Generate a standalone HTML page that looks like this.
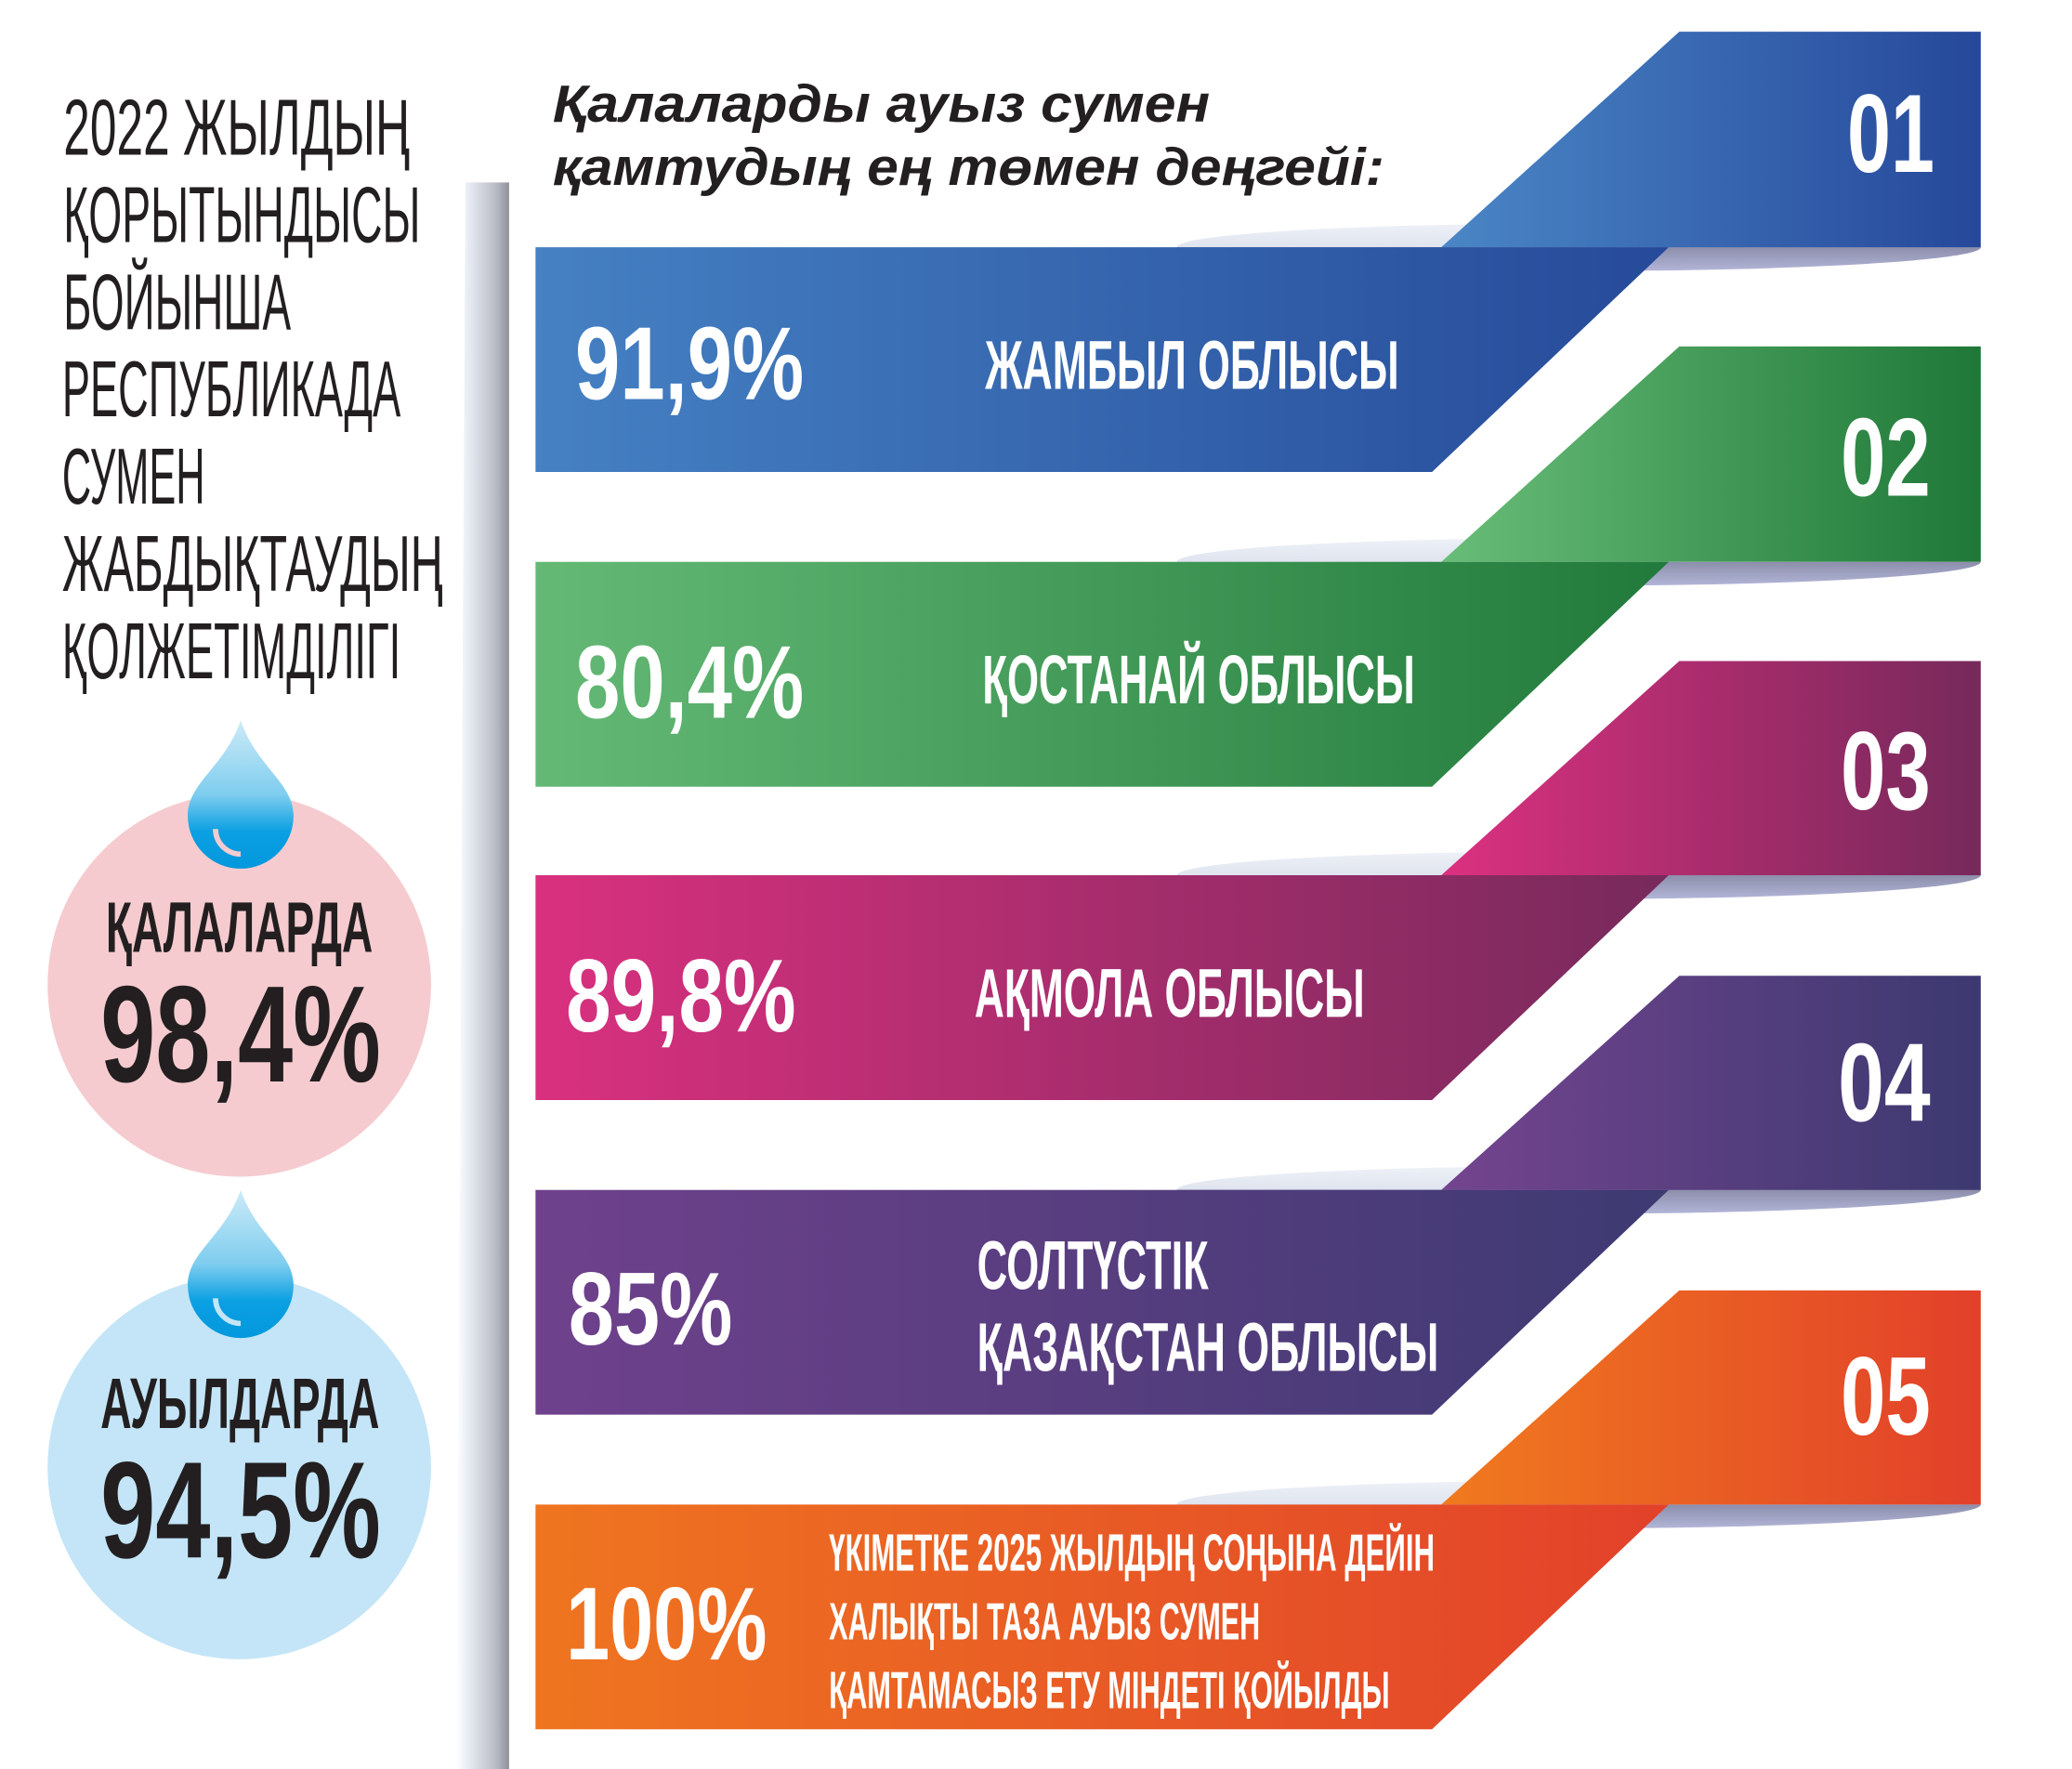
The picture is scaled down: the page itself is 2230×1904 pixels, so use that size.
<!DOCTYPE html>
<html><head><meta charset="utf-8"><style>
html,body{margin:0;padding:0;background:#fff;}
svg{display:block;}
text{font-family:"Liberation Sans Narrow","Liberation Sans","Noto Sans CJK SC",sans-serif;}
</style></head><body>
<svg width="2230" height="1904" viewBox="0 0 1567 1338" preserveAspectRatio="none" xmlns="http://www.w3.org/2000/svg">
<defs>
<linearGradient id="bar" x1="0" x2="1"><stop offset="0" stop-color="#ffffff"/><stop offset="0.25" stop-color="#e6eaf2"/><stop offset="0.75" stop-color="#b9bcc6"/><stop offset="1" stop-color="#8e9099"/></linearGradient>
<linearGradient id="ell" x1="0" y1="0" x2="0" y2="1"><stop offset="0" stop-color="#eef1f7"/><stop offset="0.5" stop-color="#dfe4ef"/><stop offset="0.5" stop-color="#8c8eab"/><stop offset="1" stop-color="#b3b5d8"/></linearGradient>
<linearGradient id="g1" x1="0" x2="1"><stop offset="0" stop-color="#4581c3"/><stop offset="1" stop-color="#264a99"/></linearGradient>
<linearGradient id="g2" x1="0" x2="1"><stop offset="0" stop-color="#64b975"/><stop offset="1" stop-color="#217a3b"/></linearGradient>
<linearGradient id="g3" x1="0" x2="1"><stop offset="0" stop-color="#d9307f"/><stop offset="1" stop-color="#772a5c"/></linearGradient>
<linearGradient id="g4" x1="0" x2="1"><stop offset="0" stop-color="#6f418c"/><stop offset="1" stop-color="#3e3a72"/></linearGradient>
<linearGradient id="g5" x1="0" x2="1"><stop offset="0" stop-color="#ef7520"/><stop offset="1" stop-color="#e2412a"/></linearGradient>
<linearGradient id="p1" x1="0" x2="1"><stop offset="0" stop-color="#4a86c6"/><stop offset="1" stop-color="#26489a"/></linearGradient>
<linearGradient id="p2" x1="0" x2="1"><stop offset="0" stop-color="#68bd78"/><stop offset="1" stop-color="#1f7838"/></linearGradient>
<linearGradient id="p3" x1="0" x2="1"><stop offset="0" stop-color="#dc3080"/><stop offset="1" stop-color="#76295b"/></linearGradient>
<linearGradient id="p4" x1="0" x2="1"><stop offset="0" stop-color="#74448f"/><stop offset="1" stop-color="#3c3970"/></linearGradient>
<linearGradient id="p5" x1="0" x2="1"><stop offset="0" stop-color="#f07a1e"/><stop offset="1" stop-color="#e2402a"/></linearGradient>
<linearGradient id="drop" x1="0" y1="0" x2="0" y2="1"><stop offset="0" stop-color="#cdebf8"/><stop offset="0.5" stop-color="#7fcdef"/><stop offset="0.75" stop-color="#0aa0e2"/><stop offset="1" stop-color="#0398dd"/></linearGradient>
</defs>

<!-- vertical bar -->
<polygon points="352,138 385,138 385,1338 345,1338" fill="url(#bar)"/>

<!-- left text -->
<g fill="#231f20" font-size="60">
<text x="48" y="117" textLength="262" lengthAdjust="spacingAndGlyphs">2022 ЖЫЛДЫҢ</text>
<text x="48" y="183" textLength="270" lengthAdjust="spacingAndGlyphs">ҚОРЫТЫНДЫСЫ</text>
<text x="48" y="249" textLength="172" lengthAdjust="spacingAndGlyphs">БОЙЫНША</text>
<text x="47" y="315" textLength="256" lengthAdjust="spacingAndGlyphs">РЕСПУБЛИКАДА</text>
<text x="47" y="381" textLength="108" lengthAdjust="spacingAndGlyphs">СУМЕН</text>
<text x="47" y="447" textLength="288" lengthAdjust="spacingAndGlyphs">ЖАБДЫҚТАУДЫҢ</text>
<text x="47" y="513" textLength="256" lengthAdjust="spacingAndGlyphs">ҚОЛЖЕТІМДІЛІГІ</text>
</g>

<!-- circles -->
<circle cx="181" cy="745" r="145" fill="#f5cbcf"/>
<circle cx="181" cy="1110" r="145" fill="#c3e5f7"/>
<g id="d1">
<path d="M182,545 C194,580 222,592 222,617 A40,40 0 1 1 142,617 C142,592 170,580 182,545 Z" fill="url(#drop)"/>
<path d="M163,627 A19,19 0 0 0 182,646" fill="none" stroke="#f5cbcf" stroke-width="4"/>
</g>
<path d="M182,900 C194,935 222,947 222,972 A40,40 0 1 1 142,972 C142,947 170,935 182,900 Z" fill="url(#drop)"/>
<path d="M163,982 A19,19 0 0 0 182,1001" fill="none" stroke="#c3e5f7" stroke-width="4"/>
<g fill="#231f20" font-weight="bold">
<text x="80" y="720" font-size="54" textLength="202" lengthAdjust="spacingAndGlyphs">ҚАЛАЛАРДА</text>
<text x="76" y="818" font-size="104" textLength="212" lengthAdjust="spacingAndGlyphs">98,4%</text>
<text x="76" y="1080" font-size="54" textLength="211" lengthAdjust="spacingAndGlyphs">АУЫЛДАРДА</text>
<text x="76" y="1178" font-size="104" textLength="212" lengthAdjust="spacingAndGlyphs">94,5%</text>
</g>

<!-- title -->
<g fill="#231f20" font-weight="bold" font-style="italic" font-size="40">
<text x="418" y="92" textLength="497" lengthAdjust="spacingAndGlyphs" style="font-family:'Liberation Sans',sans-serif">Қалаларды ауыз сумен</text>
<text x="418" y="140" textLength="629" lengthAdjust="spacingAndGlyphs" style="font-family:'Liberation Sans',sans-serif">қамтудың ең төмен деңгейі:</text>
</g>

<!-- bands -->
<g>
<ellipse cx="1194" cy="187" rx="304" ry="18" fill="url(#ell)"/>
<polygon points="1270,24 1498,24 1498,187 1090,187" fill="url(#p1)"/>
<polygon points="405,187 1262,187 1083,357 405,357" fill="url(#g1)"/>

<ellipse cx="1194" cy="425" rx="304" ry="18" fill="url(#ell)"/>
<polygon points="1270,262 1498,262 1498,425 1090,425" fill="url(#p2)"/>
<polygon points="405,425 1262,425 1083,595 405,595" fill="url(#g2)"/>

<ellipse cx="1194" cy="662" rx="304" ry="18" fill="url(#ell)"/>
<polygon points="1270,500 1498,500 1498,662 1090,662" fill="url(#p3)"/>
<polygon points="405,662 1262,662 1083,832 405,832" fill="url(#g3)"/>

<ellipse cx="1194" cy="900" rx="304" ry="18" fill="url(#ell)"/>
<polygon points="1270,738 1498,738 1498,900 1090,900" fill="url(#p4)"/>
<polygon points="405,900 1262,900 1083,1070 405,1070" fill="url(#g4)"/>

<ellipse cx="1194" cy="1138" rx="304" ry="18" fill="url(#ell)"/>
<polygon points="1270,976 1498,976 1498,1138 1090,1138" fill="url(#p5)"/>
<polygon points="405,1138 1262,1138 1083,1308 405,1308" fill="url(#g5)"/>
</g>

<!-- band text -->
<g fill="#ffffff" font-weight="bold">
<text x="1397" y="130" font-size="84" textLength="66" lengthAdjust="spacingAndGlyphs">01</text>
<text x="1392" y="375" font-size="84" textLength="68" lengthAdjust="spacingAndGlyphs">02</text>
<text x="1392" y="612" font-size="84" textLength="68" lengthAdjust="spacingAndGlyphs">03</text>
<text x="1390" y="848" font-size="84" textLength="70" lengthAdjust="spacingAndGlyphs">04</text>
<text x="1392" y="1085" font-size="84" textLength="68" lengthAdjust="spacingAndGlyphs">05</text>

<text x="435" y="302" font-size="78" textLength="173" lengthAdjust="spacingAndGlyphs">91,9%</text>
<text x="745" y="294" font-size="52" textLength="313" lengthAdjust="spacingAndGlyphs">ЖАМБЫЛ ОБЛЫСЫ</text>

<text x="435" y="543" font-size="78" textLength="173" lengthAdjust="spacingAndGlyphs">80,4%</text>
<text x="743" y="532" font-size="52" textLength="327" lengthAdjust="spacingAndGlyphs">ҚОСТАНАЙ ОБЛЫСЫ</text>

<text x="428" y="780" font-size="78" textLength="174" lengthAdjust="spacingAndGlyphs">89,8%</text>
<text x="737" y="769" font-size="52" textLength="295" lengthAdjust="spacingAndGlyphs">АҚМОЛА ОБЛЫСЫ</text>

<text x="430" y="1017" font-size="78" textLength="124" lengthAdjust="spacingAndGlyphs">85%</text>
<text x="739" y="975" font-size="52" textLength="175" lengthAdjust="spacingAndGlyphs">СОЛТҮСТІК</text>
<text x="739" y="1037" font-size="52" textLength="349" lengthAdjust="spacingAndGlyphs">ҚАЗАҚСТАН ОБЛЫСЫ</text>

<text x="428" y="1255" font-size="78" textLength="152" lengthAdjust="spacingAndGlyphs">100%</text>
<text x="627" y="1188" font-size="40" textLength="458" lengthAdjust="spacingAndGlyphs">ҮКІМЕТКЕ 2025 ЖЫЛДЫҢ СОҢЫНА ДЕЙІН</text>
<text x="627" y="1240" font-size="40" textLength="326" lengthAdjust="spacingAndGlyphs">ХАЛЫҚТЫ ТАЗА АУЫЗ СУМЕН</text>
<text x="627" y="1292" font-size="40" textLength="424" lengthAdjust="spacingAndGlyphs">ҚАМТАМАСЫЗ ЕТУ МІНДЕТІ ҚОЙЫЛДЫ</text>
</g>
</svg>
</body></html>
